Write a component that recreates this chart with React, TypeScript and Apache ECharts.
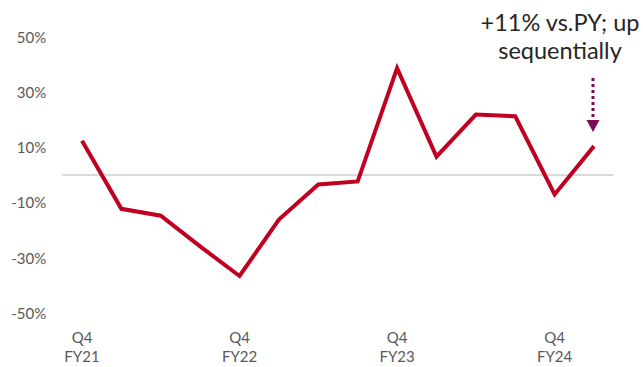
import React, { useEffect, useRef } from "react";
import * as echarts from "echarts";

const categories = [
  "Q4 FY21", "Q1 FY22", "Q2 FY22", "Q3 FY22", "Q4 FY22",
  "Q1 FY23", "Q2 FY23", "Q3 FY23", "Q4 FY23",
  "Q1 FY24", "Q2 FY24", "Q3 FY24", "Q4 FY24", "Q1 FY25",
];
const growthPct = [12.3, -12.3, -14.8, -25.9, -36.6, -16.2, -3.5, -2.4, 38.6, 6.6, 21.8, 21.2, -7.1, 10.4];
const annotationText = "+11% vs.PY; up\nsequentially";

export default function App() {
  const ref = useRef<HTMLDivElement>(null);
  useEffect(() => {
    if (!ref.current) return;
    const chart = echarts.init(ref.current, null, { renderer: "svg" });
    chart.setOption({
      animation: false,
      backgroundColor: "#ffffff",
      grid: { left: 62.3, right: 29.3, top: 36.7, bottom: 54 },
      xAxis: {
        type: "category",
        data: categories,
        boundaryGap: true,
        axisLine: { show: false },
        axisTick: { show: false },
        splitLine: { show: false },
        axisLabel: {
          interval: (i: number) => i % 4 === 0,
          formatter: (v: string) => v.replace(" ", "\n"),
          color: "#595959",
          fontFamily: "Lato",
          fontSize: 15,
          lineHeight: 19,
          margin: 14,
        },
      },
      yAxis: {
        type: "value",
        min: -50,
        max: 50,
        interval: 20,
        axisLine: { show: false },
        axisTick: { show: false },
        splitLine: { show: false },
        axisLabel: {
          formatter: (v: number) => `${v}%`,
          color: "#595959",
          fontFamily: "Lato",
          fontSize: 15,
          margin: 16,
        },
      },
      series: [
        {
          type: "line",
          data: growthPct,
          symbol: "none",
          lineStyle: { color: "#c00020", width: 4, join: "miter" },
          markLine: {
            silent: true,
            symbol: "none",
            label: { show: false },
            lineStyle: { color: "#d9d9d9", width: 2, type: "solid" },
            data: [{ yAxis: 0 }],
            z: 1,
          },
          z: 3,
        },
      ],
      graphic: [
        {
          type: "text",
          x: 560,
          y: 7.5,
          style: {
            text: annotationText,
            textAlign: "center",
            font: "23.5px Lato",
            lineHeight: 28.5,
            fill: "#262626",
          },
        },
        {
          type: "line",
          shape: { x1: 593, y1: 78, x2: 593, y2: 121 },
          style: { stroke: "#7b0b56", lineWidth: 3, lineDash: [3, 3] },
        },
        {
          type: "polygon",
          shape: { points: [[586.5, 120], [599.5, 120], [593, 132]] },
          style: { fill: "#7b0b56" },
        },
      ],
    });
    return () => chart.dispose();
  }, []);
  return (
    <div
      ref={ref}
      style={{ position: "fixed", left: 0, top: 0, width: 643, height: 367 }}
    />
  );
}
